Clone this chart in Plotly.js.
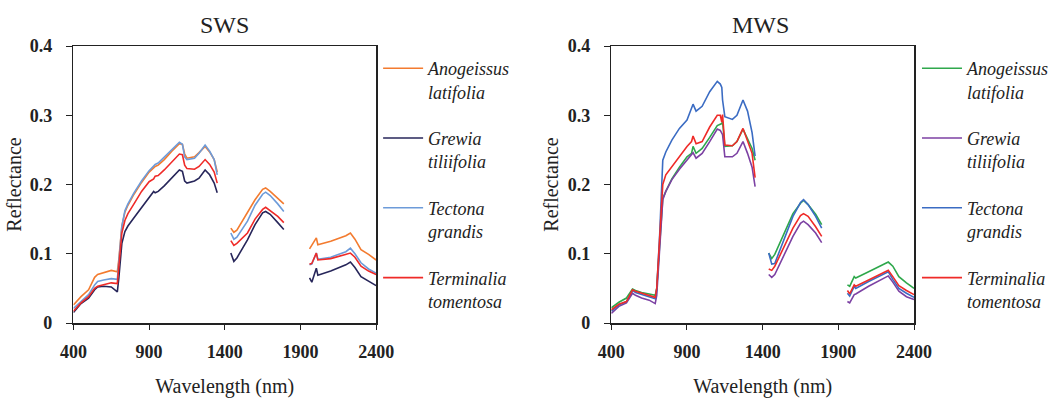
<!DOCTYPE html>
<html>
<head>
<meta charset="utf-8">
<script src="https://cdn.plot.ly/plotly-3.0.1.min.js"></script>
<style>html,body{margin:0;padding:0;background:#fff;}#chart{width:1054px;height:398px;}</style>
</head>
<body>
<div id="chart"></div>
<script>
// Wavelengths (nm); null values create the water-absorption gaps
const wavelength = [400,450,500,540,560,600,650,690,700,720,740,760,800,850,900,930,940,960,1000,1050,1100,1120,1130,1135,1150,1200,1230,1270,1300,1330,1350,
  1400,
  1440,1460,1480,1550,1600,1650,1670,1700,1750,1790,
  1870,
  1960,1975,2005,2015,2100,2200,2230,2260,2300,2350,2400];

const species = ["Anogeissus<br>latifolia", "Grewia<br>tiliifolia", "Tectona<br>grandis", "Terminalia<br>tomentosa"];
const panelTitles = ["SWS", "MWS"];
const xTicks = [400, 900, 1400, 1900, 2400];
const yTicks = [0, 0.1, 0.2, 0.3, 0.4];

// SWS panel
const swsAnogeissus = [0.026,0.038,0.048,0.066,0.070,0.073,0.076,0.074,0.092,0.140,0.160,0.170,0.186,0.203,0.218,0.224,0.226,0.228,0.236,0.248,0.259,0.258,0.250,0.244,0.238,0.240,0.246,0.255,0.247,0.236,0.218,
  null,
  0.137,0.131,0.134,0.159,0.178,0.193,0.195,0.190,0.180,0.172,
  null,
  0.107,0.112,0.123,0.113,0.118,0.126,0.130,0.121,0.106,0.099,0.091];
const swsGrewia = [0.015,0.028,0.036,0.048,0.052,0.053,0.052,0.045,0.065,0.115,0.132,0.140,0.152,0.167,0.182,0.190,0.188,0.190,0.198,0.210,0.221,0.219,0.210,0.205,0.202,0.205,0.209,0.221,0.214,0.202,0.188,
  null,
  0.101,0.089,0.094,0.120,0.142,0.159,0.161,0.157,0.145,0.135,
  null,
  0.065,0.059,0.079,0.069,0.075,0.084,0.088,0.080,0.067,0.060,0.054];
const swsTectona = [0.021,0.031,0.041,0.055,0.060,0.062,0.064,0.063,0.085,0.140,0.162,0.172,0.188,0.205,0.220,0.226,0.229,0.231,0.240,0.251,0.261,0.258,0.248,0.240,0.236,0.238,0.245,0.257,0.248,0.236,0.214,
  null,
  0.130,0.121,0.124,0.147,0.170,0.186,0.189,0.184,0.172,0.161,
  null,
  0.084,0.085,0.101,0.092,0.095,0.103,0.108,0.100,0.087,0.078,0.072];
const swsTerminalia = [0.017,0.029,0.038,0.050,0.053,0.055,0.058,0.057,0.080,0.130,0.148,0.158,0.172,0.190,0.204,0.208,0.212,0.213,0.221,0.233,0.244,0.243,0.235,0.228,0.223,0.222,0.226,0.236,0.229,0.218,0.202,
  null,
  0.119,0.112,0.115,0.130,0.150,0.164,0.167,0.162,0.154,0.145,
  null,
  0.085,0.086,0.101,0.091,0.093,0.099,0.101,0.095,0.082,0.075,0.070];

// MWS panel
const mwsAnogeissus = [0.022,0.030,0.036,0.049,0.047,0.044,0.042,0.040,0.050,0.120,0.180,0.190,0.208,0.225,0.240,0.245,0.255,0.245,0.252,0.268,0.285,0.287,0.288,0.291,0.255,0.256,0.262,0.280,0.265,0.252,0.235,
  null,
  0.101,0.093,0.099,0.134,0.158,0.173,0.177,0.171,0.157,0.142,
  null,
  0.055,0.053,0.067,0.065,0.074,0.084,0.088,0.082,0.067,0.058,0.050];
const mwsGrewia = [0.014,0.024,0.029,0.043,0.040,0.036,0.033,0.028,0.040,0.118,0.178,0.190,0.207,0.222,0.235,0.243,0.246,0.238,0.245,0.262,0.280,0.278,0.274,0.272,0.240,0.240,0.245,0.262,0.245,0.225,0.197,
  null,
  0.070,0.066,0.070,0.101,0.125,0.144,0.147,0.142,0.130,0.116,
  null,
  0.031,0.029,0.041,0.042,0.053,0.065,0.068,0.059,0.046,0.038,0.034];
const mwsTectona = [0.017,0.026,0.031,0.047,0.044,0.041,0.038,0.035,0.048,0.130,0.235,0.247,0.264,0.281,0.293,0.310,0.316,0.306,0.313,0.334,0.349,0.345,0.340,0.322,0.298,0.294,0.300,0.322,0.306,0.275,0.241,
  null,
  0.101,0.085,0.086,0.125,0.154,0.174,0.178,0.171,0.154,0.137,
  null,
  0.043,0.039,0.053,0.050,0.060,0.071,0.074,0.063,0.050,0.043,0.037];
const mwsTerminalia = [0.019,0.027,0.031,0.048,0.046,0.043,0.040,0.037,0.050,0.120,0.200,0.214,0.226,0.240,0.255,0.262,0.270,0.259,0.262,0.283,0.300,0.300,0.290,0.301,0.257,0.256,0.262,0.281,0.264,0.245,0.210,
  null,
  0.078,0.076,0.082,0.113,0.137,0.155,0.158,0.154,0.139,0.125,
  null,
  0.047,0.042,0.055,0.053,0.062,0.072,0.076,0.067,0.054,0.047,0.041];

const swsSeries = [swsAnogeissus, swsGrewia, swsTectona, swsTerminalia];
const mwsSeries = [mwsAnogeissus, mwsGrewia, mwsTectona, mwsTerminalia];
const swsColors = ["#f37b2f", "#27265a", "#6d9bd9", "#ef2b28"];
const mwsColors = ["#2fa84c", "#7c41a3", "#3b6cc3", "#ef2b28"];

const serif = "Liberation Serif, serif";
const traces = [];
swsSeries.forEach((ys, i) => traces.push({
  x: wavelength, y: ys, type: "scatter", mode: "lines", name: species[i],
  line: {color: swsColors[i], width: 1.6}, connectgaps: false,
  xaxis: "x", yaxis: "y", legend: "legend", legendgroup: "s" + i
}));
mwsSeries.forEach((ys, i) => traces.push({
  x: wavelength, y: ys, type: "scatter", mode: "lines", name: species[i],
  line: {color: mwsColors[i], width: 1.6}, connectgaps: false,
  xaxis: "x2", yaxis: "y2", legend: "legend2", legendgroup: "m" + i
}));

const W = 1054, H = 398;
function xAxis(d0, d1, anchor) {
  return {
    domain: [d0 / W, d1 / W], anchor: anchor, range: [400, 2400],
    tickvals: xTicks, ticktext: xTicks.map(String),
    showline: true, mirror: true, linecolor: "#222", linewidth: 1.5,
    ticks: "outside", ticklen: 5, tickcolor: "#222", showgrid: false, zeroline: false,
    ticklabelstandoff: 7,
    tickfont: {family: serif, size: 18, weight: "bold", color: "#222"},
    title: {text: "Wavelength (nm)", font: {family: serif, size: 20, color: "#222"}, standoff: 22}
  };
}
function yAxis(anchor) {
  return {
    domain: [1 - 323 / H, 1 - 46 / H], anchor: anchor, range: [0, 0.4],
    tickvals: yTicks, ticktext: yTicks.map(v => v === 0 ? "0" : v.toFixed(1)),
    showline: true, mirror: true, linecolor: "#222", linewidth: 1.5,
    ticks: "outside", ticklen: 6, tickcolor: "#222", showgrid: false, zeroline: false,
    ticklabelstandoff: 10,
    tickfont: {family: serif, size: 18, weight: "bold", color: "#222"},
    title: {text: "Reflectance", font: {family: serif, size: 20, color: "#222"}, standoff: 3}
  };
}
function legendAt(xpx) {
  return {
    x: xpx / W, xanchor: "left", y: 1 - 50 / H, yanchor: "top",
    font: {family: serif, size: 18, style: "italic", color: "#222"},
    valign: "top", tracegroupgap: 20, itemwidth: 40,
    bgcolor: "rgba(0,0,0,0)", borderwidth: 0
  };
}

const layout = {
  width: W, height: H, margin: {l: 0, r: 0, t: 0, b: 0},
  font: {family: serif, color: "#222"},
  paper_bgcolor: "#fff", plot_bgcolor: "#fff", showlegend: true,
  xaxis: xAxis(74, 379, "y"), yaxis: yAxis("x"),
  xaxis2: xAxis(616, 921, "y2"), yaxis2: yAxis("x2"),
  legend: legendAt(381), legend2: legendAt(924),
  annotations: [
    {text: panelTitles[0], x: 226.5 / W, y: 1 - 25 / H, xref: "paper", yref: "paper", showarrow: false,
     xanchor: "center", yanchor: "middle", font: {family: serif, size: 24, color: "#222"}},
    {text: panelTitles[1], x: 766 / W, y: 1 - 25 / H, xref: "paper", yref: "paper", showarrow: false,
     xanchor: "center", yanchor: "middle", font: {family: serif, size: 24, color: "#222"}}
  ]
};

Plotly.newPlot("chart", traces, layout, {displayModeBar: false, staticPlot: true});
</script>
</body>
</html>
